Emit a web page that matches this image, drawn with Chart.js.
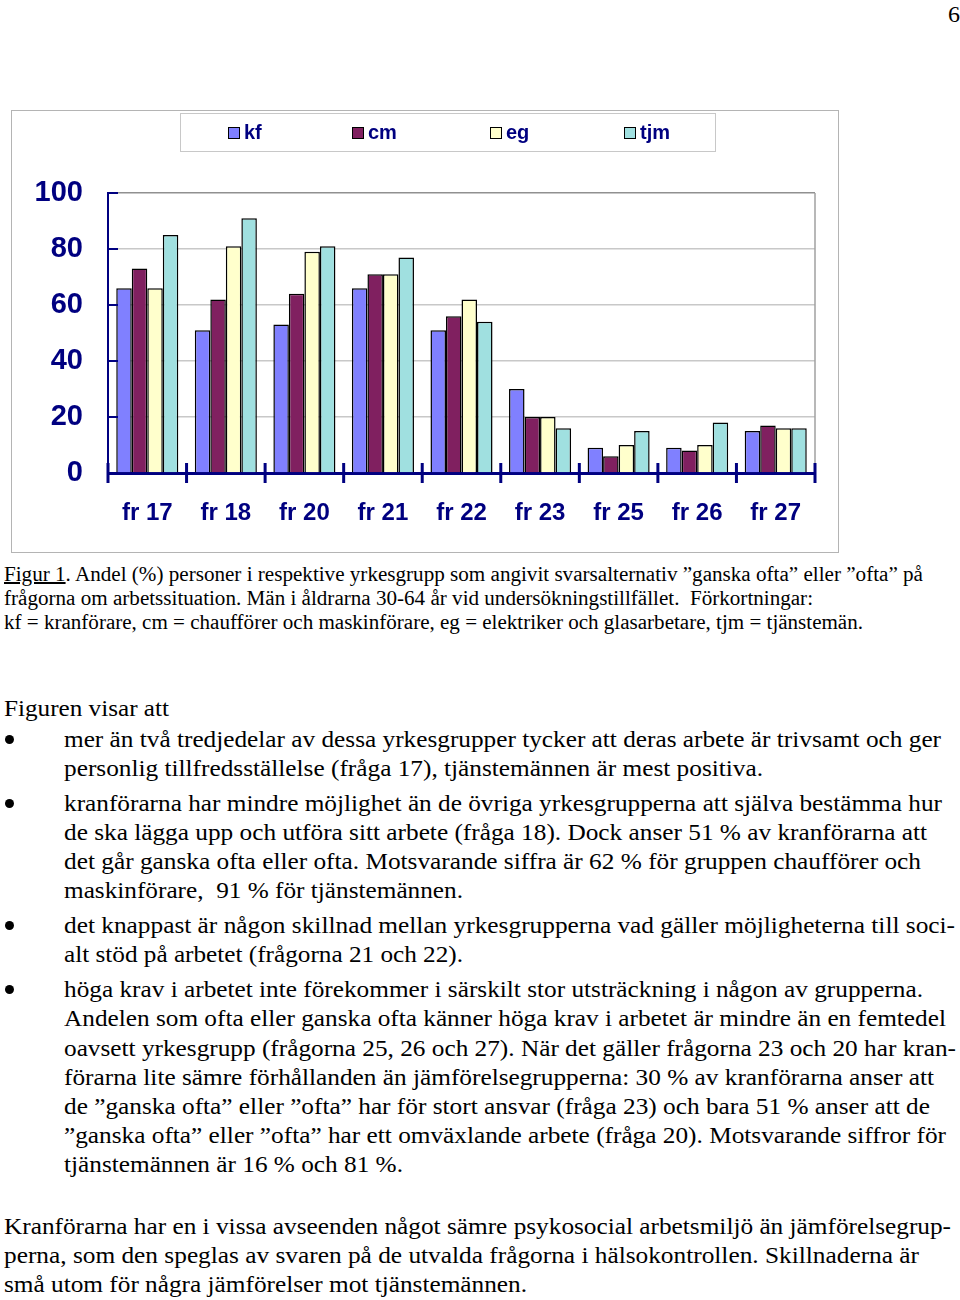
<!DOCTYPE html>
<html>
<head>
<meta charset="utf-8">
<script src="https://cdn.jsdelivr.net/npm/chart.js@4.4.1/dist/chart.umd.min.js"></script>
<style>
  body { margin: 0; background: #fff; }
  #page { position: relative; width: 960px; height: 1300px; overflow: hidden; font-family: "Liberation Serif", "Times New Roman", serif; color: #000; }
  #frame { position: absolute; left: 11px; top: 110px; width: 826px; height: 441px; border: 1px solid #b4b4b4; }
  #chartBox { position: absolute; left: 11px; top: 110px; width: 828px; height: 443px; }
  #legend { position: absolute; left: 180px; top: 113px; width: 534px; height: 37px; border: 1px solid #c8c8c8; }
  .lg { position: absolute; top: 0; height: 37px; display: flex; align-items: center; font-family: "Liberation Sans", Arial, sans-serif; font-weight: bold; font-size: 20px; color: #000080; }
  .lg i { display: inline-block; width: 10px; height: 10px; border: 1px solid #000; margin-right: 4px; }
  .ln { position: absolute; white-space: nowrap; line-height: 1; transform-origin: 0 0; }
  .cap { font-size: 20px; }
  .txt { font-size: 24px; }
  .dot { position: absolute; left: 5px; width: 9px; height: 9px; border-radius: 50%; background: #000; }
</style>
</head>
<body>
<div id="page">
  <div class="ln txt" style="left:948px; top:2px;">6</div>

  <div id="frame"></div>
  <div id="chartBox"><canvas id="chart"></canvas></div>
  <div id="legend"></div>

  <div class="ln cap" data-b="581" data-r="923" style="left:4px;"><u>Figur 1</u>. Andel (%) personer i respektive yrkesgrupp som angivit svarsalternativ ”ganska ofta” eller ”ofta” på</div>
  <div class="ln cap" data-b="605" data-r="813" style="left:4px;">frågorna om arbetssituation. Män i åldrarna 30-64 år vid undersökningstillfället.&nbsp; Förkortningar:</div>
  <div class="ln cap" data-b="629" data-r="863" style="left:4px;">kf = kranförare, cm = chaufförer och maskinförare, eg = elektriker och glasarbetare, tjm = tjänstemän.</div>

  <div class="ln txt" data-b="716" data-r="169" style="left:4px;">Figuren visar att</div>

  <div class="dot" style="top:735px;"></div>
  <div class="ln txt" data-b="747" data-r="941" style="left:64px;">mer än två tredjedelar av dessa yrkesgrupper tycker att deras arbete är trivsamt och ger</div>
  <div class="ln txt" data-b="776" data-r="763" style="left:64px;">personlig tillfredsställelse (fråga 17), tjänstemännen är mest positiva.</div>

  <div class="dot" style="top:799px;"></div>
  <div class="ln txt" data-b="811" data-r="942" style="left:64px;">kranförarna har mindre möjlighet än de övriga yrkesgrupperna att själva bestämma hur</div>
  <div class="ln txt" data-b="840" data-r="927" style="left:64px;">de ska lägga upp och utföra sitt arbete (fråga 18). Dock anser 51 % av kranförarna att</div>
  <div class="ln txt" data-b="869" data-r="921" style="left:64px;">det går ganska ofta eller ofta. Motsvarande siffra är 62 % för gruppen chaufförer och</div>
  <div class="ln txt" data-b="898" data-r="463" style="left:64px;">maskinförare,&nbsp; 91 % för tjänstemännen.</div>

  <div class="dot" style="top:921px;"></div>
  <div class="ln txt" data-b="933" data-r="955" style="left:64px;">det knappast är någon skillnad mellan yrkesgrupperna vad gäller möjligheterna till soci-</div>
  <div class="ln txt" data-b="962" data-r="463" style="left:64px;">alt stöd på arbetet (frågorna 21 och 22).</div>

  <div class="dot" style="top:985px;"></div>
  <div class="ln txt" data-b="997" data-r="923" style="left:64px;">höga krav i arbetet inte förekommer i särskilt stor utsträckning i någon av grupperna.</div>
  <div class="ln txt" data-b="1026" data-r="946" style="left:64px;">Andelen som ofta eller ganska ofta känner höga krav i arbetet är mindre än en femtedel</div>
  <div class="ln txt" data-b="1056" data-r="956" style="left:64px;">oavsett yrkesgrupp (frågorna 25, 26 och 27). När det gäller frågorna 23 och 20 har kran-</div>
  <div class="ln txt" data-b="1085" data-r="934" style="left:64px;">förarna lite sämre förhållanden än jämförelsegrupperna: 30 % av kranförarna anser att</div>
  <div class="ln txt" data-b="1114" data-r="930" style="left:64px;">de ”ganska ofta” eller ”ofta” har för stort ansvar (fråga 23) och bara 51 % anser att de</div>
  <div class="ln txt" data-b="1143" data-r="946" style="left:64px;">”ganska ofta” eller ”ofta” har ett omväxlande arbete (fråga 20). Motsvarande siffror för</div>
  <div class="ln txt" data-b="1172" data-r="403" style="left:64px;">tjänstemännen är 16 % och 81 %.</div>

  <div class="ln txt" data-b="1234" data-r="951" style="left:4px;">Kranförarna har en i vissa avseenden något sämre psykosocial arbetsmiljö än jämförelsegrup-</div>
  <div class="ln txt" data-b="1263" data-r="919" style="left:4px;">perna, som den speglas av svaren på de utvalda frågorna i hälsokontrollen. Skillnaderna är</div>
  <div class="ln txt" data-b="1292" data-r="527" style="left:4px;">små utom för några jämförelser mot tjänstemännen.</div>
</div>

<script>
// data (percent)
const categories = ['fr 17', 'fr 18', 'fr 20', 'fr 21', 'fr 22', 'fr 23', 'fr 25', 'fr 26', 'fr 27'];
const kf  = [66, 51, 53, 66, 51, 30, 9, 9, 15];
const cm  = [73, 62, 64, 71, 56, 20, 6, 8, 17];
const eg  = [66, 81, 79, 71, 62, 20, 10, 10, 16];
const tjm = [85, 91, 81, 77, 54, 16, 15, 18, 16];
const yTicks = [0, 20, 40, 60, 80, 100];

const seriesNames = ['kf', 'cm', 'eg', 'tjm'];
const seriesColors = ['#8080ff', '#802060', '#ffffcc', '#a0e0e0'];
const navy = '#000080';

// place the text lines on their baselines and stretch them to the measured width
document.querySelectorAll('.ln[data-b]').forEach(el => {
  const fs = parseFloat(getComputedStyle(el).fontSize);
  el.style.top = (parseFloat(el.dataset.b) - 0.8375 * fs) + 'px';
  if (el.dataset.r) {
    const left = parseFloat(el.style.left);
    const w = el.getBoundingClientRect().width;
    el.style.transform = 'scaleX(' + ((el.dataset.r - left) / w).toFixed(4) + ')';
  }
});

// legend
const legendX = [47, 171, 309, 443];
const legend = document.getElementById('legend');
seriesNames.forEach((name, i) => {
  const d = document.createElement('div');
  d.className = 'lg';
  d.style.left = legendX[i] + 'px';
  d.innerHTML = '<i style="background:' + seriesColors[i] + '"></i>' + name;
  legend.appendChild(d);
});

// frame, inner y ticks, x tick marks between categories
const axisMarks = {
  id: 'axisMarks',
  afterDraw(chart) {
    const ctx = chart.ctx;
    const a = chart.chartArea;
    const y = chart.scales.y;
    ctx.save();
    ctx.strokeStyle = '#a0a0a0';
    ctx.lineWidth = 1.5;
    ctx.beginPath();
    ctx.moveTo(a.right, a.top);
    ctx.lineTo(a.right, a.bottom);
    ctx.stroke();

    ctx.strokeStyle = navy;
    ctx.lineWidth = 2;
    yTicks.forEach(v => {
      const py = y.getPixelForValue(v);
      ctx.beginPath();
      ctx.moveTo(a.left, py);
      ctx.lineTo(a.left + 10, py);
      ctx.stroke();
    });

    ctx.lineWidth = 3;
    const step = (a.right - a.left) / categories.length;
    for (let i = 0; i <= categories.length; i++) {
      const px = a.left + i * step;
      ctx.beginPath();
      ctx.moveTo(px, a.bottom - 10);
      ctx.lineTo(px, a.bottom + 10);
      ctx.stroke();
    }
    ctx.restore();
  }
};

const datasets = [kf, cm, eg, tjm].map((vals, i) => ({
  label: seriesNames[i],
  data: vals,
  backgroundColor: seriesColors[i],
  borderColor: '#000',
  borderWidth: 1.5,
  barPercentage: 1,
  categoryPercentage: 0.79
}));

new Chart(document.getElementById('chart'), {
  type: 'bar',
  data: { labels: categories, datasets: datasets },
  options: {
    responsive: true,
    maintainAspectRatio: false,
    animation: false,
    layout: { padding: { top: 83, right: 24, left: 0, bottom: 0 } },
    plugins: { legend: { display: false }, tooltip: { enabled: false } },
    scales: {
      x: {
        offset: true,
        grid: { display: false, drawTicks: false },
        border: { display: true, color: navy, width: 3 },
        ticks: {
          color: navy,
          padding: 26,
          font: { family: 'Liberation Sans', weight: 'bold', size: 24 }
        },
        afterFit: s => { s.height = 80; }
      },
      y: {
        min: 0,
        max: 100,
        afterBuildTicks: s => { s.ticks = yTicks.map(v => ({ value: v })); },
        grid: {
          drawTicks: false,
          color: ctx => ctx.tick && ctx.tick.value === 100 ? '#909090' : '#c8c8c8',
          lineWidth: 1.5
        },
        border: { display: true, color: navy, width: 2 },
        ticks: {
          color: navy,
          padding: 25,
          font: { family: 'Liberation Sans', weight: 'bold', size: 29 }
        },
        afterFit: s => { s.width = 97; }
      }
    }
  },
  plugins: [axisMarks]
});
</script>
</body>
</html>
